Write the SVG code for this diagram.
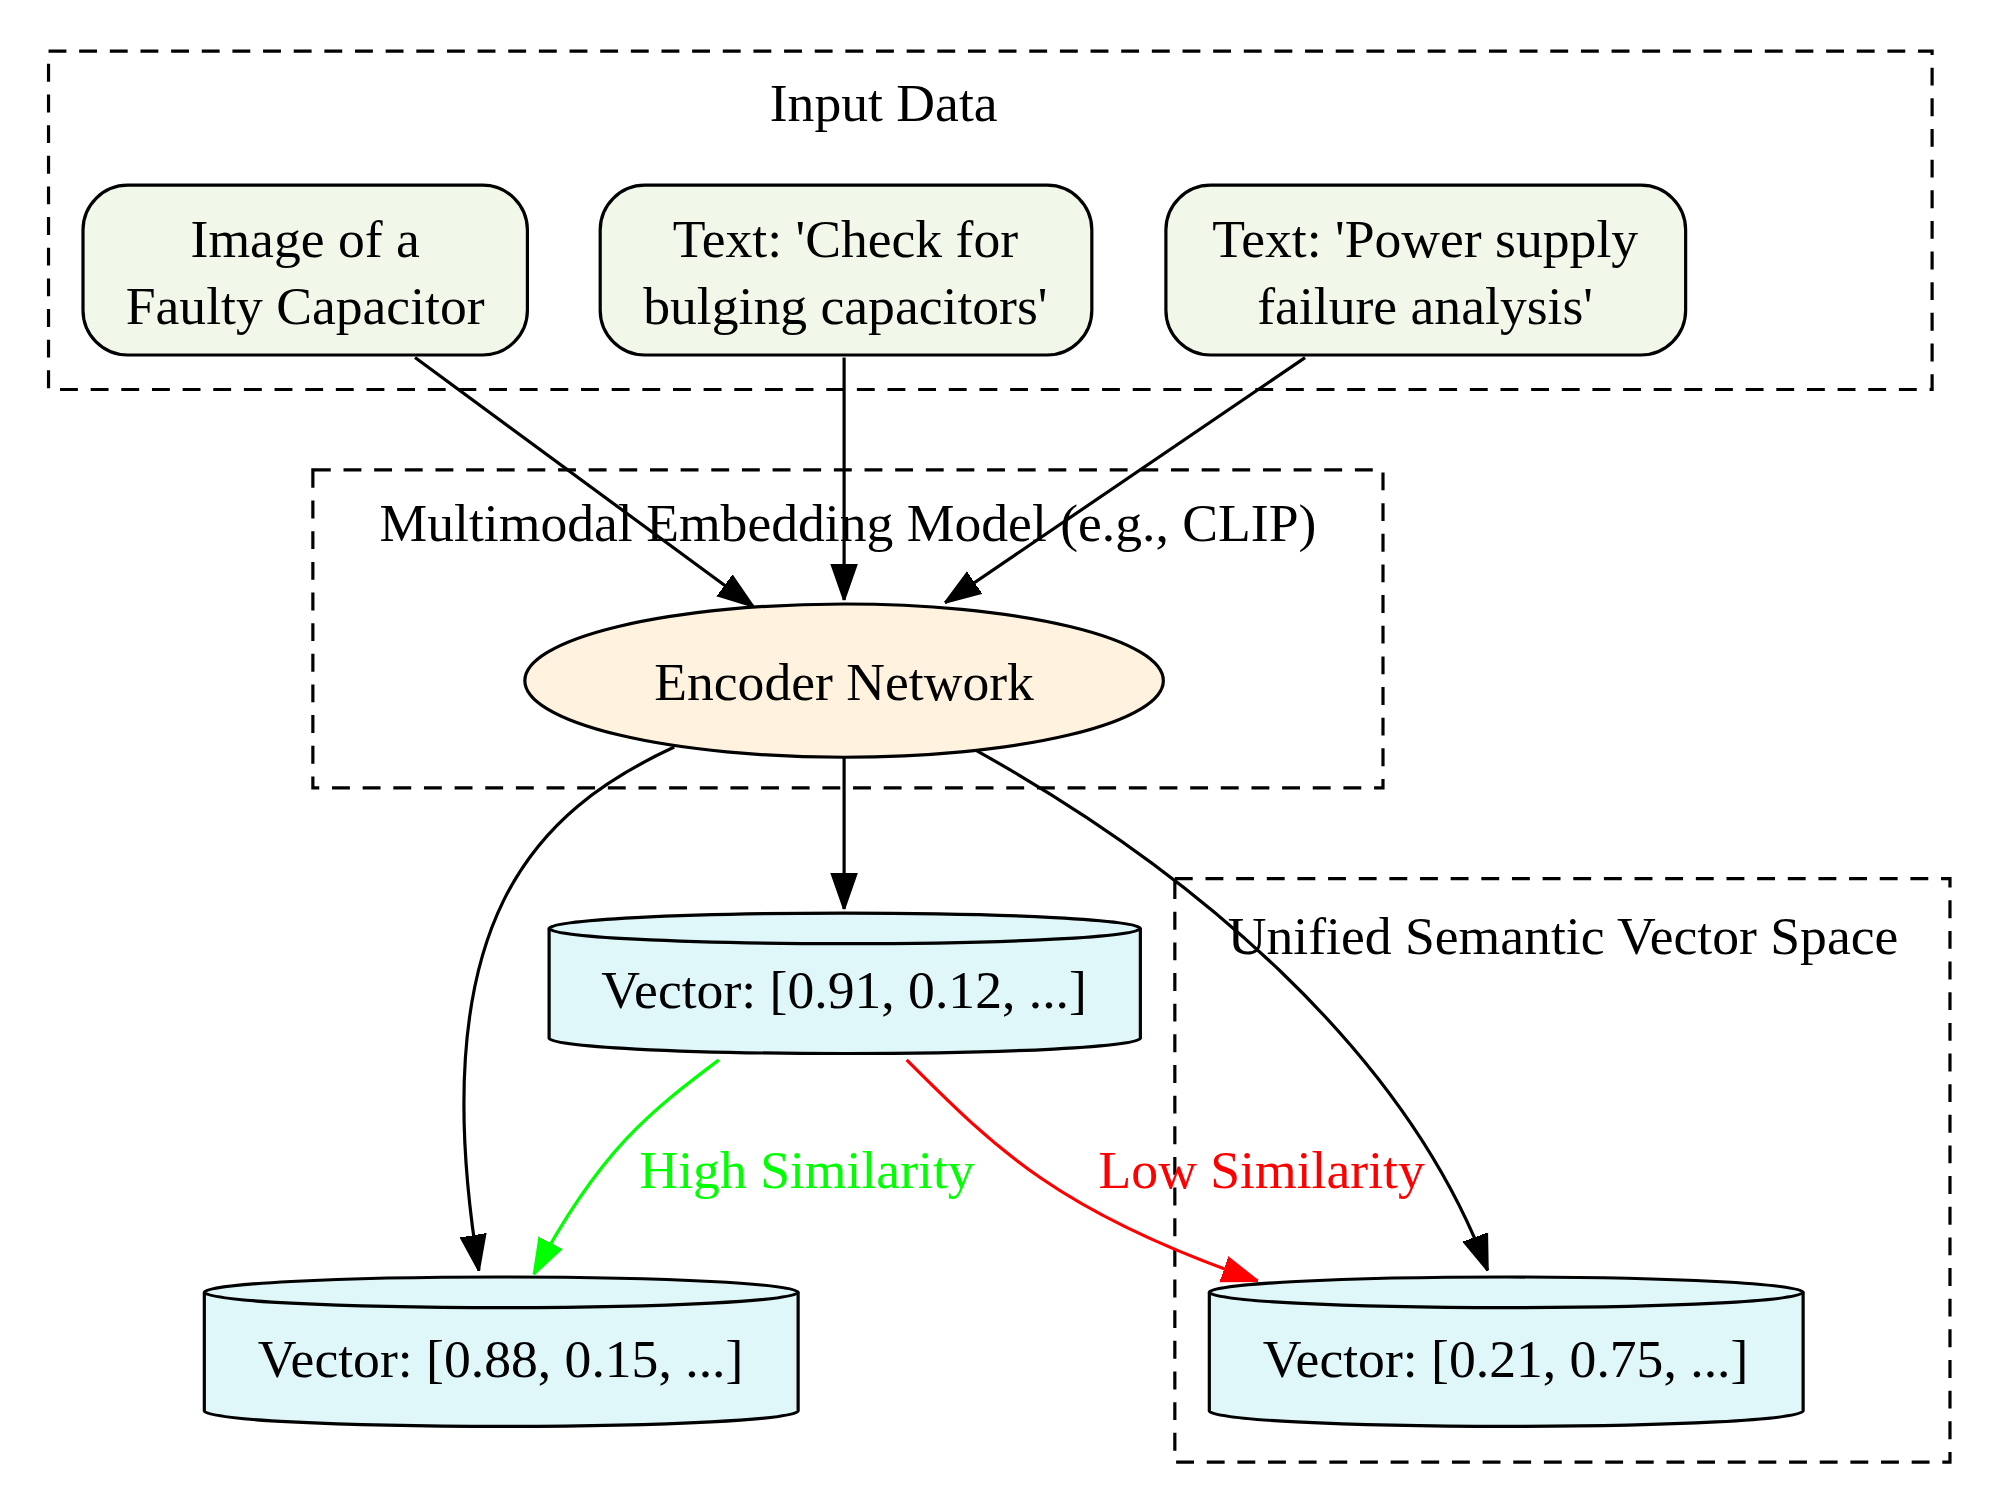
<svg xmlns="http://www.w3.org/2000/svg" width="2000" height="1510" viewBox="0 0 2000 1510">
<defs>
<style>
text{font-family:"Liberation Serif","Times New Roman",serif;font-size:42px;text-anchor:middle}
.cl{fill:none;stroke:#000;stroke-width:2.5;stroke-dasharray:14,10}
.in{fill:#f1f8e9;stroke:#000;stroke-width:2.5}
.cy{fill:#e0f7fa;stroke:#000;stroke-width:2.5}
.e{fill:none;stroke:#000;stroke-width:2.5}
</style>
<marker id="ab" viewBox="0 0 10 10" refX="10" refY="5" markerWidth="28" markerHeight="28" markerUnits="userSpaceOnUse" orient="auto"><path d="M0,1.5L10,5L0,8.5z" fill="#000" stroke="#000" stroke-width="0.6"/></marker>
<marker id="ag" viewBox="0 0 10 10" refX="10" refY="5" markerWidth="28" markerHeight="28" markerUnits="userSpaceOnUse" orient="auto"><path d="M0,1.5L10,5L0,8.5z" fill="#00ff00" stroke="#00ff00" stroke-width="0.6"/></marker>
<marker id="ar" viewBox="0 0 10 10" refX="10" refY="5" markerWidth="28" markerHeight="28" markerUnits="userSpaceOnUse" orient="auto"><path d="M0,1.5L10,5L0,8.5z" fill="#ff0000" stroke="#ff0000" stroke-width="0.6"/></marker>
</defs>
<rect width="2000" height="1510" fill="#fff"/>
<g transform="scale(1.277)">
<g id="cluster_input"><rect class="cl" x="38" y="40" width="1475" height="265"/><text x="692" y="95">Input Data</text></g>
<g id="cluster_model"><rect class="cl" x="245" y="368" width="838" height="249"/><text x="664" y="424">Multimodal Embedding Model (e.g., CLIP)</text></g>
<g id="cluster_space"><rect class="cl" x="920" y="688" width="607" height="457"/><text x="1224" y="747">Unified Semantic Vector Space</text></g>
<g id="img"><rect class="in" x="65" y="145" width="348" height="133" rx="35"/><text x="239" y="201">Image of a</text><text x="239" y="254">Faulty Capacitor</text></g>
<g id="txt1"><rect class="in" x="470" y="145" width="385" height="133" rx="35"/><text x="662" y="201">Text: 'Check for</text><text x="662" y="254">bulging capacitors'</text></g>
<g id="txt2"><rect class="in" x="913" y="145" width="407" height="133" rx="35"/><text x="1116" y="201">Text: 'Power supply</text><text x="1116" y="254">failure analysis'</text></g>
<g id="enc"><ellipse cx="661" cy="533" rx="250" ry="60" fill="#fff3e0" stroke="#000" stroke-width="2.5"/><text x="661" y="548">Encoder Network</text></g>
<g id="v1"><path class="cy" d="M430,727 A231.5,12 0 0 1 893,727 V813 A231.5,12 0 0 1 430,813 Z"/><path class="e" d="M430,727 A231.5,12 0 0 0 893,727"/><text x="661" y="789">Vector: [0.91, 0.12, ...]</text></g>
<g id="v2"><path class="cy" d="M160,1012 A232.5,12 0 0 1 625,1012 V1105 A232.5,12 0 0 1 160,1105 Z"/><path class="e" d="M160,1012 A232.5,12 0 0 0 625,1012"/><text x="392" y="1078">Vector: [0.88, 0.15, ...]</text></g>
<g id="v3"><path class="cy" d="M947,1012 A232.5,12 0 0 1 1412,1012 V1105 A232.5,12 0 0 1 947,1105 Z"/><path class="e" d="M947,1012 A232.5,12 0 0 0 1412,1012"/><text x="1179" y="1078">Vector: [0.21, 0.75, ...]</text></g>
<g id="edges">
<path class="e" marker-end="url(#ab)" d="M325,280L590,475"/>
<path class="e" marker-end="url(#ab)" d="M661,280L661,470"/>
<path class="e" marker-end="url(#ab)" d="M1022,280L740,472"/>
<path class="e" marker-end="url(#ab)" d="M661,593L661,712"/>
<path class="e" marker-end="url(#ab)" d="M528,585C420,635 330,720 375,995"/>
<path class="e" marker-end="url(#ab)" d="M765,588C930,680 1100,820 1165,995"/>
<path fill="none" stroke="#00ff00" stroke-width="2.5" marker-end="url(#ag)" d="M563,830C510,870 470,900 418,998"/>
<path fill="none" stroke="#ff0000" stroke-width="2.5" marker-end="url(#ar)" d="M710,830C780,900 830,950 985,1003"/>
<text x="632" y="930" fill="#00ff00">High Similarity</text>
<text x="988" y="930" fill="#ff0000">Low Similarity</text>
</g>
</g>
</svg>
